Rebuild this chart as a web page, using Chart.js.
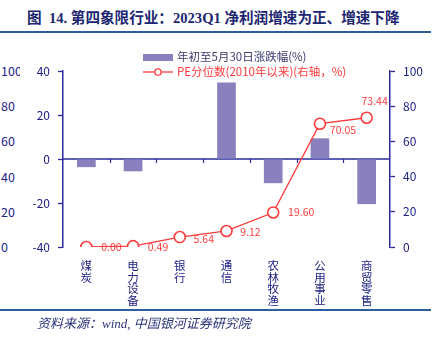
<!DOCTYPE html>
<html>
<head>
<meta charset="utf-8">
<script src="https://cdn.jsdelivr.net/npm/chart.js@4.4.0/dist/chart.umd.min.js"></script>
<style>
  body { margin: 0; width: 439px; height: 337px; background: #fff; position: relative; overflow: hidden; }
  #title { position: absolute; left: 27px; top: 6px; font: bold 14.6px 'Liberation Serif', 'Noto Sans CJK SC'; color: #1c2570; white-space: nowrap; }
  .rule { position: absolute; left: 0; width: 431px; height: 2px; background: #2f5c9c; }
  #source { position: absolute; left: 37px; top: 313px; font: italic 13px 'Liberation Serif', 'Noto Sans CJK SC'; color: #2b3478; white-space: nowrap; }
  #oldAxis { position: absolute; left: 0; top: 0; width: 20px; height: 260px; overflow: hidden; font: 12.5px 'Noto Sans CJK SC'; color: #22238a; }
  #oldAxis span { position: absolute; left: 1px; line-height: 14px; }
  canvas { position: absolute; left: 0; top: 0; }
</style>
</head>
<body>
<div id="title">图&nbsp;&nbsp;14. 第四象限行业：2023Q1 净利润增速为正、增速下降</div>
<div class="rule" style="top:31px"></div>
<div id="oldAxis"></div>
<canvas id="chart" width="439" height="337"></canvas>
<div class="rule" style="top:309px"></div>
<div id="source">资料来源：wind, 中国银河证券研究院</div>
<script>
var categories = ['煤炭', '电力设备', '银行', '通信', '农林牧渔', '公用事业', '商贸零售'];
var ytdChange = [-3.7, -5.6, 0, 34.8, -11.0, 9.4, -20.5];
var pePercentile = [0.00, 0.49, 5.64, 9.12, 19.60, 70.05, 73.44];
var oldAxisTicks = ['100', '80', '60', '40', '20', '0'];

var navy = '#2a2a9c';
var tickText = '#1f2285';
var red = '#ff3b3b';
var purple = '#8a80be';

// leftover axis labels at the far left edge
var oldAxis = document.getElementById('oldAxis');
oldAxisTicks.forEach(function (t, i) {
  var s = document.createElement('span');
  s.textContent = t;
  s.style.top = (64 + i * 35.2) + 'px';
  oldAxis.appendChild(s);
});

// zero line across the plot plus small category ticks below it
var zeroLine = {
  id: 'zeroLine',
  beforeDatasetsDraw: function (chart) {
    var c = chart.ctx, a = chart.chartArea;
    var y0 = chart.scales.y.getPixelForValue(0);
    c.save();
    c.strokeStyle = navy;
    c.lineWidth = 1.5;
    c.beginPath();
    c.moveTo(a.left, y0);
    c.lineTo(a.right, y0);
    c.stroke();
    c.lineWidth = 1.2;
    var step = (a.right - a.left) / categories.length;
    for (var i = 1; i < categories.length; i++) {
      var xx = Math.round(a.left + i * step) + 0.5;
      c.beginPath();
      c.moveTo(xx, y0);
      c.lineTo(xx, y0 + 4);
      c.stroke();
    }
    c.restore();
  }
};

// value labels next to the PE points
var labelOffsets = [[25, 0], [25, 1], [24, 2], [24, 1], [28, 0], [23, 6], [8, -17]];
var peLabels = {
  id: 'peLabels',
  afterDatasetsDraw: function (chart) {
    var c = chart.ctx;
    var meta = chart.getDatasetMeta(1);
    c.save();
    c.fillStyle = red;
    c.font = '10.5px "Noto Sans CJK SC"';
    c.textAlign = 'center';
    c.textBaseline = 'middle';
    meta.data.forEach(function (p, i) {
      var o = labelOffsets[i];
      c.fillText(pePercentile[i].toFixed(2), p.x + o[0], p.y + o[1]);
    });
    c.restore();
  }
};

// legend in the upper part of the plot
var legendBox = {
  id: 'legendBox',
  afterDraw: function (chart) {
    var c = chart.ctx;
    c.save();
    c.font = '11.5px "Noto Sans CJK SC"';
    c.textBaseline = 'middle';
    c.fillStyle = purple;
    c.fillRect(143, 54, 30, 7);
    c.fillStyle = '#3a3a6e';
    c.fillText('年初至5月30日涨跌幅(%)', 177, 57);
    c.strokeStyle = red;
    c.lineWidth = 1.3;
    c.beginPath();
    c.moveTo(143, 72);
    c.lineTo(173, 72);
    c.stroke();
    c.beginPath();
    c.arc(158, 72, 3.2, 0, Math.PI * 2);
    c.fillStyle = '#fff';
    c.fill();
    c.stroke();
    c.fillStyle = red;
    c.fillText('PE分位数(2010年以来)(右轴，%)', 177, 72);
    c.restore();
  }
};

var axisFont = { family: 'Noto Sans CJK SC', size: 12 };

new Chart(document.getElementById('chart'), {
  data: {
    labels: categories.map(function (s) { return s.split(''); }),
    datasets: [{
      type: 'bar',
      label: '年初至5月30日涨跌幅(%)',
      data: ytdChange,
      backgroundColor: purple,
      barPercentage: 0.4,
      categoryPercentage: 1,
      yAxisID: 'y',
      order: 1
    }, {
      type: 'line',
      label: 'PE分位数(2010年以来)(右轴，%)',
      data: pePercentile,
      borderColor: red,
      borderWidth: 1.3,
      pointRadius: 5.5,
      pointBackgroundColor: '#fff',
      pointBorderColor: red,
      pointBorderWidth: 1.6,
      tension: 0,
      yAxisID: 'y1',
      order: 0
    }]
  },
  options: {
    responsive: false,
    animation: false,
    layout: { padding: { top: 71, left: 0, right: 0, bottom: 0 } },
    plugins: { legend: { display: false }, tooltip: { enabled: false } },
    scales: {
      x: {
        grid: { display: false, drawTicks: false },
        border: { display: false },
        ticks: { color: tickText, font: { family: 'Noto Sans CJK SC', size: 11.5, lineHeight: 1.0 }, padding: 13, maxRotation: 0, autoSkip: false },
        afterFit: function (s) { s.height = 90; }
      },
      y: {
        position: 'left',
        min: -40, max: 40,
        ticks: { stepSize: 20, color: tickText, font: axisFont, padding: 8 },
        grid: { drawOnChartArea: false, tickLength: 5, tickColor: navy, tickWidth: 1.3 },
        border: { color: navy, width: 1.5 },
        afterFit: function (s) { s.width = 63; }
      },
      y1: {
        position: 'right',
        min: 0, max: 100,
        ticks: { stepSize: 20, color: tickText, font: axisFont, padding: 8 },
        grid: { drawOnChartArea: false, tickLength: 5, tickColor: navy, tickWidth: 1.3 },
        border: { color: navy, width: 1.5 },
        afterFit: function (s) { s.width = 49; }
      }
    }
  },
  plugins: [zeroLine, peLabels, legendBox]
});
</script>
</body>
</html>
